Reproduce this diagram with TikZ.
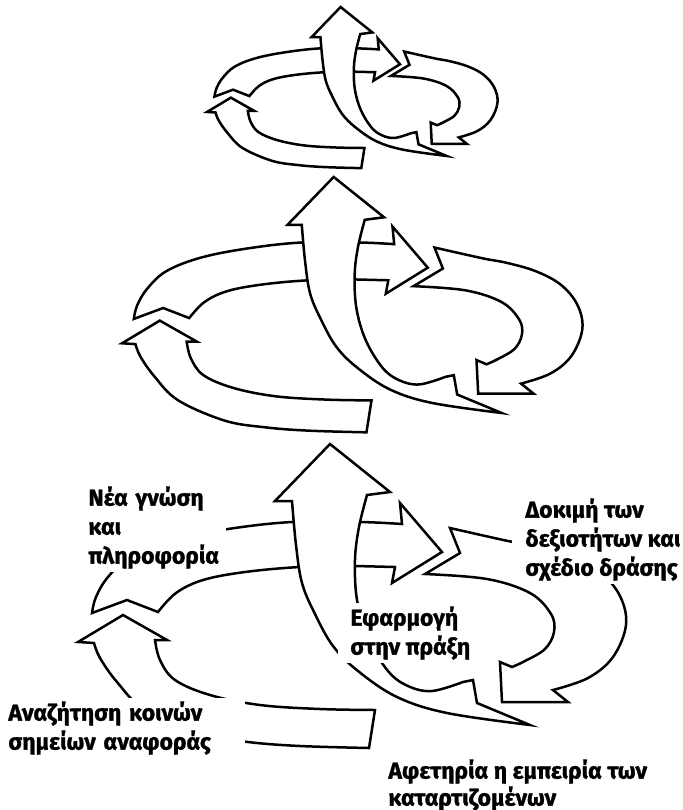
\documentclass[tikz,border=0pt]{standalone}
\usepackage{fontspec}
\newfontfamily\lblfont{Fira Sans}[BoldFeatures={FakeBold=1.2}]
\begin{document}
\begin{tikzpicture}[x=0.5pt,y=-0.5pt,
  arr/.style={draw=black, fill=white, line width=1.25pt, line join=miter},
  lbl/.style={font=\lblfont\bfseries\fontsize{11.5pt}{14.5pt}\selectfont, fill=white, align=left, anchor=north west, inner xsep=1.5pt, inner ysep=1.5pt}]
\useasboundingbox (0,0) rectangle (682,810);
\newcommand\spirallevel{%
  % back-left arrow
  \path[arr] (92,613) -- (127,600) -- (158,612)
    -- plot[smooth,tension=0.6] coordinates {(158,612) (176,593) (203,580) (245,572) (300,567) (355,566)}
    -- (395,567) -- (392,583) -- (442,552) -- (400,503) -- (402,524)
    -- plot[smooth,tension=0.6] coordinates {(402,524) (360,522) (292,522) (228,529) (172,540) (131,556) (108,577) (96,597) (92,613)}
    -- cycle;
  % right arrow
  \path[arr] (450,528) -- (460,553) -- (425,574)
    -- plot[smooth,tension=0.6] coordinates {(425,574) (487,579) (530,593) (551,614) (554,632) (545,649) (525,661) (512,667)}
    -- (500,662) -- (502,702) -- (568,702) -- (553,690)
    -- plot[smooth,tension=0.6] coordinates {(553,690) (588,678) (613,657) (626,625) (620,596) (600,572) (570,556) (535,546) (508,541) (450,528)}
    -- cycle;
  % bottom-front arrow
  \path[arr] (375,710) -- (369,748)
    -- plot[smooth,tension=0.6] coordinates {(369,748) (300,746) (248,742) (200,734) (145,710) (117,682) (100,658) (94,643)}
    -- (78,642) -- (123,615) -- (167,640) -- (155,640)
    -- plot[smooth,tension=0.6] coordinates {(155,640) (160,660) (175,680) (210,695) (260,705) (320,709) (375,710)}
    -- cycle;
  % up arrow
  \path[arr] (330,444) -- (275,501) -- (292,501)
    -- plot[smooth,tension=0.6] coordinates {(292,501) (296,545) (302,583) (315,614) (333,646) (358,671) (397,697) (447,713) (530,725)}
    -- (477,703) -- (473,680) -- (463,682)
    -- plot[smooth,tension=0.6] coordinates {(463,682) (432,691) (408,686) (388,671) (368,638) (357,600) (355,560) (359,527) (367,495)}
    -- (390,492) -- cycle;
}
\begin{scope}[shift={(165.7,-228.3)},scale=0.53]\spirallevel\end{scope}
\begin{scope}[shift={(56.5,-196)},scale=0.84]\spirallevel\end{scope}
\spirallevel
% labels
\node[lbl, text width=67.5pt] (nea) at (85,483) {Νέα γνώση\\και\\πληροφορία};
\node[lbl, inner xsep=6.5pt] (dok) at (512,495) {Δοκιμή των\\δεξιοτήτων και\\σχέδιο δράσης};
\node[lbl, inner xsep=6pt] (efa) at (338,603) {Εφαρμογή\\στην πράξη};
\node[lbl, text width=117pt] (ana) at (5,698) {Αναζήτηση κοινών\\σημείων αναφοράς};
\node[lbl, font=\lblfont\bfseries\fontsize{11.5pt}{13.5pt}\selectfont] (afe) at (385,756) {Αφετηρία η εμπειρία των\\καταρτιζομένων};
\end{tikzpicture}
\end{document}
